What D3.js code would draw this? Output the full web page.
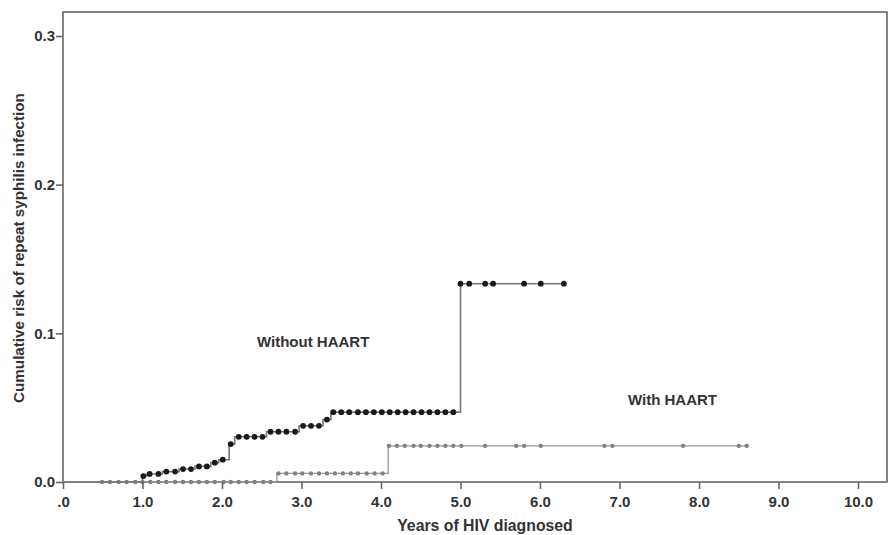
<!DOCTYPE html>
<html>
<head>
<meta charset="utf-8">
<script src="https://cdn.jsdelivr.net/npm/d3@7"></script>
<style>
  body { margin: 0; background: #fff; }
  svg { display: block; }
  text { font-family: "Liberation Sans", Arial, sans-serif; font-weight: bold; fill: #333; }
</style>
</head>
<body>
<svg id="chart"></svg>
<script>
const width = 889;
const height = 535;

// axis ticks
const xTicks = [0, 1, 2, 3, 4, 5, 6, 7, 8, 9, 10];
const yTicks = [0, 0.1, 0.2, 0.3];

// Without HAART: step times and cumulative risk after each step
const withoutSteps = [
  [0, 0], [1.0, 0.004], [1.05, 0.0054], [1.25, 0.007], [1.46, 0.0087],
  [1.66, 0.0105], [1.86, 0.013], [1.96, 0.015], [2.09, 0.0255], [2.16, 0.0304],
  [2.56, 0.0338], [2.97, 0.0378], [3.27, 0.042], [3.37, 0.047], [5.0, 0.1334]
];
const withoutEnd = 6.30;
const withoutCensored = [
  1.01, 1.09, 1.20, 1.30, 1.41, 1.51, 1.61, 1.71, 1.81, 1.91, 2.01, 2.11,
  2.21, 2.31, 2.41, 2.51, 2.61, 2.71, 2.81, 2.92, 3.02, 3.12, 3.22, 3.32,
  3.40, 3.50, 3.60, 3.71, 3.81, 3.91, 4.01, 4.11, 4.21, 4.31, 4.41, 4.51,
  4.61, 4.71, 4.81, 4.91,
  5.00, 5.11, 5.31, 5.41, 5.80, 6.01, 6.30
];

// With HAART
const withSteps = [[0, 0], [2.69, 0.0058], [4.09, 0.0243]];
const withEnd = 8.60;
const withCensored = [
  0.49, 0.59, 0.70, 0.80, 0.91, 1.00, 1.10, 1.20, 1.30, 1.41, 1.51, 1.61,
  1.71, 1.81, 1.91, 2.02, 2.11, 2.21, 2.31, 2.41, 2.52, 2.61,
  2.71, 2.81, 2.92, 3.01, 3.12, 3.22, 3.32, 3.42, 3.52, 3.62, 3.71, 3.82, 3.92, 4.02,
  4.10, 4.20, 4.30, 4.41, 4.50, 4.61, 4.71, 4.81, 4.91, 5.01, 5.31, 5.70, 5.80,
  6.01, 6.81, 6.91, 7.80, 8.50, 8.60
];

let svg = d3.select('#chart').attr('width', width).attr('height', height);

let xScale = d3.scaleLinear().domain([0, 10]).range([63, 858]);
let yScale = d3.scaleLinear().domain([0, 0.3]).range([482, 36]);

const plotLeft = xScale(0);
const plotRight = 887;
const plotTop = 12;
const plotBottom = yScale(0);

let valueAt = (steps, t) => {
  let v = 0;
  steps.forEach(s => { if (s[0] <= t + 1e-9) v = s[1]; });
  return v;
};

let stepLine = d3.line()
  .x(d => xScale(d[0]))
  .y(d => yScale(d[1]))
  .curve(d3.curveStepAfter);

let drawSeries = (steps, end, censored, lineColor, lineWidth, dotColor, r) => {
  let pts = steps.concat([[end, steps[steps.length - 1][1]]]);
  svg.append('path')
    .attr('d', stepLine(pts))
    .attr('fill', 'none')
    .attr('stroke', lineColor)
    .attr('stroke-width', lineWidth);
  svg.append('g')
    .selectAll('circle')
    .data(censored)
    .enter()
    .append('circle')
    .attr('cx', d => xScale(d))
    .attr('cy', d => yScale(valueAt(steps, d)))
    .attr('r', r)
    .attr('fill', dotColor);
};

// frame
svg.append('rect')
  .attr('x', plotLeft)
  .attr('y', plotTop)
  .attr('width', plotRight - plotLeft)
  .attr('height', plotBottom - plotTop)
  .attr('fill', 'none')
  .attr('stroke', '#666')
  .attr('stroke-width', 1.6);

drawSeries(withSteps, withEnd, withCensored, '#999', 1.3, '#808080', 2.2);
drawSeries(withoutSteps, withoutEnd, withoutCensored, '#777', 1.6, '#1a1a1a', 2.9);

// axes
let xAxis = d3.axisBottom(xScale)
  .tickValues(xTicks)
  .tickSize(7)
  .tickFormat(d => d === 0 ? '.0' : d3.format('.1f')(d));

let gx = svg.append('g')
  .attr('transform', 'translate(0,' + plotBottom + ')')
  .call(xAxis);
gx.select('.domain').remove();
gx.selectAll('line').attr('stroke', '#666').attr('stroke-width', 1.6);
gx.selectAll('text').attr('font-size', 15).attr('dy', 0).attr('y', 25);

let yAxis = d3.axisLeft(yScale)
  .tickValues(yTicks)
  .tickSize(7)
  .tickFormat(d3.format('.1f'));

let gy = svg.append('g')
  .attr('transform', 'translate(' + plotLeft + ',0)')
  .call(yAxis);
gy.select('.domain').remove();
gy.selectAll('line').attr('stroke', '#666').attr('stroke-width', 1.6);
gy.selectAll('text').attr('font-size', 15).attr('x', -8);

// titles
svg.append('text')
  .attr('x', 485)
  .attr('y', 531)
  .attr('text-anchor', 'middle')
  .attr('font-size', 15.8)
  .text('Years of HIV diagnosed');

svg.append('text')
  .attr('transform', 'translate(24,248) rotate(-90)')
  .attr('text-anchor', 'middle')
  .attr('font-size', 15.2)
  .text('Cumulative risk of repeat syphilis infection');

// series labels
svg.append('text')
  .attr('x', 257)
  .attr('y', 347)
  .attr('font-size', 15)
  .text('Without HAART');

svg.append('text')
  .attr('x', 628)
  .attr('y', 405)
  .attr('font-size', 15)
  .text('With HAART');
</script>
</body>
</html>
